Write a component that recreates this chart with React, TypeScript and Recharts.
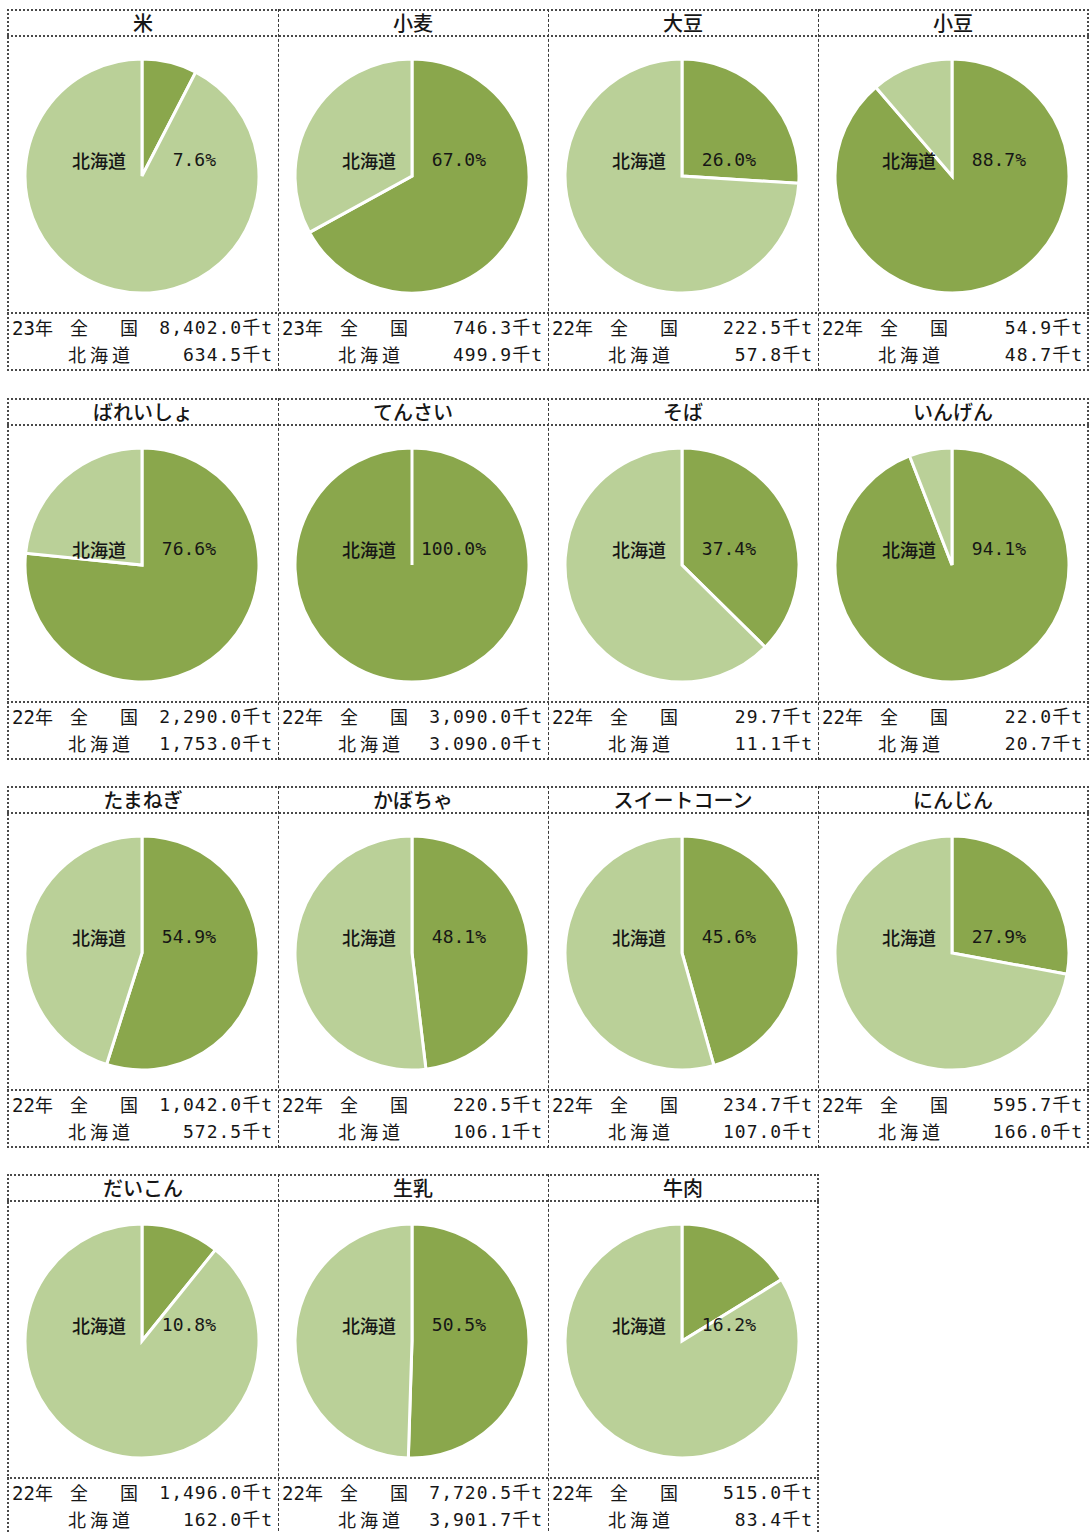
import { PieChart, Pie, Cell } from 'recharts'

const crops = ['米', '小麦', '大豆', '小豆', 'ばれいしょ', 'てんさい', 'そば', 'いんげん', 'たまねぎ', 'かぼちゃ', 'スイートコーン', 'にんじん', 'だいこん', '生乳', '牛肉']
const years = ['23年', '23年', '22年', '22年', '22年', '22年', '22年', '22年', '22年', '22年', '22年', '22年', '22年', '22年', '22年']
const nationalTotals = ['8,402.0', '746.3', '222.5', '54.9', '2,290.0', '3,090.0', '29.7', '22.0', '1,042.0', '220.5', '234.7', '595.7', '1,496.0', '7,720.5', '515.0']
const hokkaidoTotals = ['634.5', '499.9', '57.8', '48.7', '1,753.0', '3.090.0', '11.1', '20.7', '572.5', '106.1', '107.0', '166.0', '162.0', '3,901.7', '83.4']
const hokkaidoShare = [7.6, 67.0, 26.0, 88.7, 76.6, 100.0, 37.4, 94.1, 54.9, 48.1, 45.6, 27.9, 10.8, 50.5, 16.2]

const DARK = '#8aa74c'
const LIGHT = '#bad098'
const CELL_W = 270
const GROUP_TOPS = [9, 398, 786, 1174]
const GROUP_H = 362
const TITLE_H = 27
const PIE_H = 277
const CX = 134
const CY = 140
const JP = "'Noto Sans CJK JP', sans-serif"
const NUM = "'DejaVu Sans Mono', 'Noto Sans CJK JP', monospace"
const BORDER = '2px dotted #4a4a4a'
const INK = '#161616'

function CropCell({ index, left, top }: { index: number; left: number; top: number }) {
  const share = hokkaidoShare[index]
  const data = [
    { name: '北海道', value: share },
    { name: 'その他', value: Math.round((100 - share) * 10) / 10 },
  ]
  const pieTop = top + TITLE_H
  const footTop = top + TITLE_H + PIE_H
  const foot = { position: 'absolute' as const, fontSize: 18, lineHeight: '27px', color: INK }
  return (
    <>
      <div style={{ position: 'absolute', left, top: top + 1, width: CELL_W, height: TITLE_H - 2, textAlign: 'center', fontFamily: JP, fontSize: 20, fontWeight: 500, lineHeight: `${TITLE_H - 2}px`, color: INK }}>
        {crops[index]}
      </div>
      <div style={{ position: 'absolute', left, top: pieTop }}>
        <PieChart width={CELL_W - 2} height={PIE_H} margin={{ top: 0, right: 0, bottom: 0, left: 0 }}>
          <Pie
            data={data}
            dataKey="value"
            cx={CX}
            cy={CY}
            outerRadius={117}
            startAngle={90}
            endAngle={-270}
            stroke="#ffffff"
            strokeWidth={3}
            isAnimationActive={false}
          >
            <Cell fill={DARK} />
            <Cell fill={LIGHT} />
          </Pie>
        </PieChart>
      </div>
      <div style={{ position: 'absolute', left: left + CX - 80, top: pieTop + CY - 30, width: 64, textAlign: 'right', fontFamily: JP, fontSize: 18, fontWeight: 500, lineHeight: '28px', color: INK }}>
        北海道
      </div>
      <div style={{ position: 'absolute', left: left + CX, top: pieTop + CY - 30, width: 74, textAlign: 'right', fontFamily: NUM, fontSize: 18, lineHeight: '28px', color: INK }}>
        {share.toFixed(1)}%
      </div>
      <div style={{ ...foot, left: left + 4, top: footTop + 1, fontFamily: JP }}>
        <span style={{ fontFamily: NUM, fontSize: 19 }}>{years[index].slice(0, 2)}</span>{years[index].slice(2)}
      </div>
      <div style={{ ...foot, left: left + 62, top: footTop + 1, width: 68, display: 'flex', justifyContent: 'space-between', fontFamily: JP }}>
        <span>全</span><span>国</span>
      </div>
      <div style={{ ...foot, left: left + 60, top: footTop + 28, width: 62, display: 'flex', justifyContent: 'space-between', fontFamily: JP }}>
        <span>北</span><span>海</span><span>道</span>
      </div>
      <div style={{ ...foot, left: left + 100, top: footTop + 1, width: CELL_W - 105, textAlign: 'right', fontFamily: NUM, letterSpacing: 1 }}>
        {nationalTotals[index]}千t
      </div>
      <div style={{ ...foot, left: left + 100, top: footTop + 28, width: CELL_W - 105, textAlign: 'right', fontFamily: NUM, letterSpacing: 1 }}>
        {hokkaidoTotals[index]}千t
      </div>
    </>
  )
}

export default function App() {
  const rows = [0, 1, 2, 3].map(r => crops.map((_, i) => i).filter(i => Math.floor(i / 4) === r))
  return (
    <div style={{ position: 'absolute', left: 0, top: 0, width: 1092, height: 1533, background: '#ffffff', overflow: 'hidden' }}>
      {rows.map((items, r) => {
        const top = GROUP_TOPS[r]
        const width = items.length * CELL_W + 2
        return (
          <div key={r}>
            <div style={{ position: 'absolute', left: 7, top, width, height: GROUP_H, border: BORDER, boxSizing: 'border-box' }} />
            <div style={{ position: 'absolute', left: 7, top: top + TITLE_H - 1, width, height: 0, borderTop: BORDER }} />
            <div style={{ position: 'absolute', left: 7, top: top + TITLE_H + PIE_H - 1, width, height: 0, borderTop: BORDER }} />
            {items.slice(1).map((_, k) => (
              <div key={k} style={{ position: 'absolute', left: 8 + (k + 1) * CELL_W, top, width: 0, height: GROUP_H, borderLeft: '1px dashed #3a3a3a' }} />
            ))}
            {items.map((i, c) => (
              <CropCell key={i} index={i} left={8 + c * CELL_W} top={top} />
            ))}
          </div>
        )
      })}
    </div>
  )
}
